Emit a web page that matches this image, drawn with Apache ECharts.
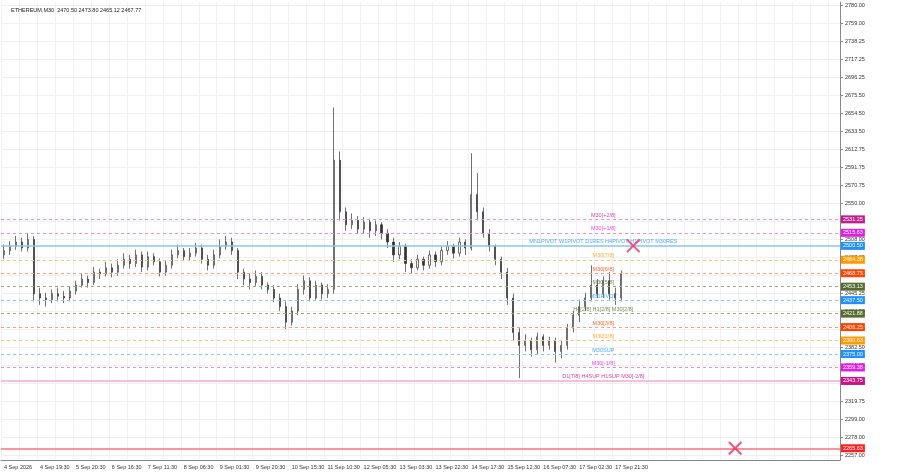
<!DOCTYPE html><html><head><meta charset="utf-8">
<script src="https://cdn.jsdelivr.net/npm/echarts@6/dist/echarts.min.js"></script>
<style>html,body{margin:0;background:#fff}#c{width:900px;height:474px}</style></head><body><div id="c"></div>
<script>
const xTickLabels=["4 Sep 2026","4 Sep 19:30","5 Sep 20:30","6 Sep 16:30","7 Sep 11:30","8 Sep 06:30","9 Sep 01:30","9 Sep 20:30","10 Sep 15:30","11 Sep 10:30","12 Sep 05:30","13 Sep 03:30","13 Sep 22:30","14 Sep 17:30","15 Sep 12:30","16 Sep 07:30","17 Sep 02:30","17 Sep 21:30"];
const yTickLabels=[2257.00,2278.00,2299.00,2319.75,2340.75,2361.75,2382.50,2403.50,2424.50,2445.25,2466.25,2487.25,2508.00,2529.00,2550.00,2570.75,2591.75,2612.75,2633.50,2654.50,2675.50,2696.25,2717.25,2738.25,2759.00,2780.00];
const firstOpen=2490;
const closes=[2495,2500,2505,2498,2508,2445,2440,2438,2445,2442,2440,2448,2455,2462,2458,2470,2468,2475,2470,2478,2485,2480,2490,2476,2488,2482,2470,2478,2490,2495,2488,2492,2498,2485,2478,2490,2500,2505,2495,2470,2462,2458,2465,2455,2450,2440,2430,2412,2425,2450,2460,2440,2455,2445,2450,2600,2540,2525,2530,2520,2528,2518,2525,2515,2505,2490,2500,2480,2475,2485,2478,2490,2482,2495,2500,2492,2505,2498,2560,2540,2515,2500,2485,2470,2440,2400,2385,2390,2380,2395,2385,2390,2378,2385,2405,2420,2430,2440,2455,2445,2460,2445,2440,2467.77];
const highs=[2502,2506,2512,2510,2515,2512,2452,2446,2450,2452,2448,2454,2460,2468,2466,2476,2474,2482,2480,2485,2492,2490,2496,2494,2494,2492,2486,2484,2496,2502,2498,2498,2504,2502,2490,2496,2508,2512,2510,2498,2474,2468,2472,2470,2458,2455,2445,2436,2430,2456,2466,2464,2460,2458,2456,2661,2610,2545,2538,2535,2534,2532,2530,2528,2520,2510,2505,2503,2485,2490,2488,2495,2494,2500,2506,2503,2510,2508,2608,2585,2545,2520,2502,2488,2475,2445,2405,2398,2394,2400,2398,2395,2394,2390,2410,2425,2438,2446,2478,2462,2465,2470,2452,2472];
const lows=[2485,2490,2496,2494,2494,2436,2432,2430,2434,2436,2434,2436,2444,2452,2452,2455,2462,2465,2464,2466,2474,2474,2476,2470,2472,2478,2465,2466,2474,2486,2484,2484,2488,2480,2472,2474,2486,2496,2490,2462,2455,2450,2454,2450,2445,2435,2425,2404,2408,2420,2444,2436,2438,2438,2440,2445,2530,2518,2520,2514,2515,2510,2512,2508,2498,2482,2485,2470,2468,2472,2472,2474,2476,2478,2490,2486,2488,2490,2495,2530,2510,2494,2478,2462,2432,2390,2347,2378,2372,2375,2378,2380,2365,2370,2380,2400,2412,2425,2436,2440,2440,2438,2432,2436];
const levelValues=[2531.25,2515.63,2500.50,2484.38,2468.75,2453.13,2437.50,2421.88,2406.25,2390.63,2375.00,2359.38,2343.75,2265.63];
const levelTexts=["M30[+2/8]","M30[+1/8]","MN1PIVOT W1PIVOT D1RES H4PIVOT H1PIVOT M30RES","M30[7/8]","M30[6/8]","M30[5/8]","M30PIVOT","H4[2/8] H1[2/8] M30[2/8]","M30[3/8]","M30[1/8]","M30SUP","M30[-1/8]","D1[7/8] H4SUP H1SUP M30[-2/8]",""];
const levelColors=["#ec8ad8","#ec8ad8","#8cc4f0","#ffc27a","#ff9a80","#9aa880","#8cc0f4","#9aa880","#ff9a80","#ffc27a","#8cc0f4","#ec8ad8","#f4a8d4","#ff7080"];
const tagColors=["#c0208f","#e020e0","#1e90ff","#ff9a00","#ff4500","#556b2f","#1e90ff","#556b2f","#ff4500","#ff9a00","#1e90ff","#e020e0","#c71585","#ff2020"];
const crossPoints=[[105,2500.5],[122,2265.63]];
const N=140, PER=6;
const cats=[];for(let i=0;i<N;i++)cats.push(i%PER===0&&xTickLabels[i/PER]?xTickLabels[i/PER]:"");
const ohlc=closes.map((c,i)=>[i===0?firstOpen:closes[i-1],c,lows[i],highs[i]]);
const solid=[2,12,13];
const ml=levelValues.map((v,i)=>({yAxis:v,lineStyle:{color:levelColors[i],type:solid.includes(i)?'solid':[3,3],width:solid.includes(i)?1.5:1},
 label:{show:true,position:'end',formatter:v.toFixed(2),color:'#fff',backgroundColor:tagColors[i],fontSize:5.5,padding:[1,2],distance:1}}));
const textPts=levelValues.map((v,i)=>({value:[100,v],label:{show:!!levelTexts[i],formatter:levelTexts[i],color:tagColors[i],fontSize:5.5,position:'top',distance:1}}));
const chart=echarts.init(document.getElementById('c'));
chart.setOption({animation:false,
 title:{text:'ETHEREUM,M30  2470.50 2473.80 2465.12 2467.77',left:6,top:2,textStyle:{fontSize:5.5,fontWeight:'normal',color:'#222'}},
 grid:{left:1,right:60,top:2,bottom:14},
 xAxis:{type:'category',data:cats,boundaryGap:true,axisLine:{lineStyle:{color:'#888'}},axisTick:{show:false},
  axisLabel:{interval:PER-1,fontSize:5.5,color:'#333',align:'left',margin:4},splitLine:{show:true,interval:2,lineStyle:{color:'#f0f0f0'}}},
 yAxis:{type:'value',position:'right',min:2252,max:2783.5,axisLine:{show:true,lineStyle:{color:'#888'}},axisTick:{show:true,customValues:yTickLabels,length:3},
  axisLabel:{customValues:yTickLabels,formatter:v=>v.toFixed(2),fontSize:5.5,color:'#333',margin:5},splitLine:{show:true,lineStyle:{color:'#f0f0f0'}}},
 series:[
  {type:'candlestick',data:ohlc,barWidth:1.6,itemStyle:{color:'#ffffff',color0:'#333',borderColor:'#333',borderColor0:'#333',borderWidth:0.7},
   markLine:{symbol:'none',silent:true,data:ml}},
  {type:'scatter',data:textPts,symbolSize:0,silent:true,z:5},
  {type:'scatter',data:crossPoints,symbol:'path://M0,1L1,0L10,9L9,10Z M9,0L10,1L1,10L0,9Z',symbolSize:14,itemStyle:{color:'#e83060'},z:6}
 ]});
</script></body></html>
